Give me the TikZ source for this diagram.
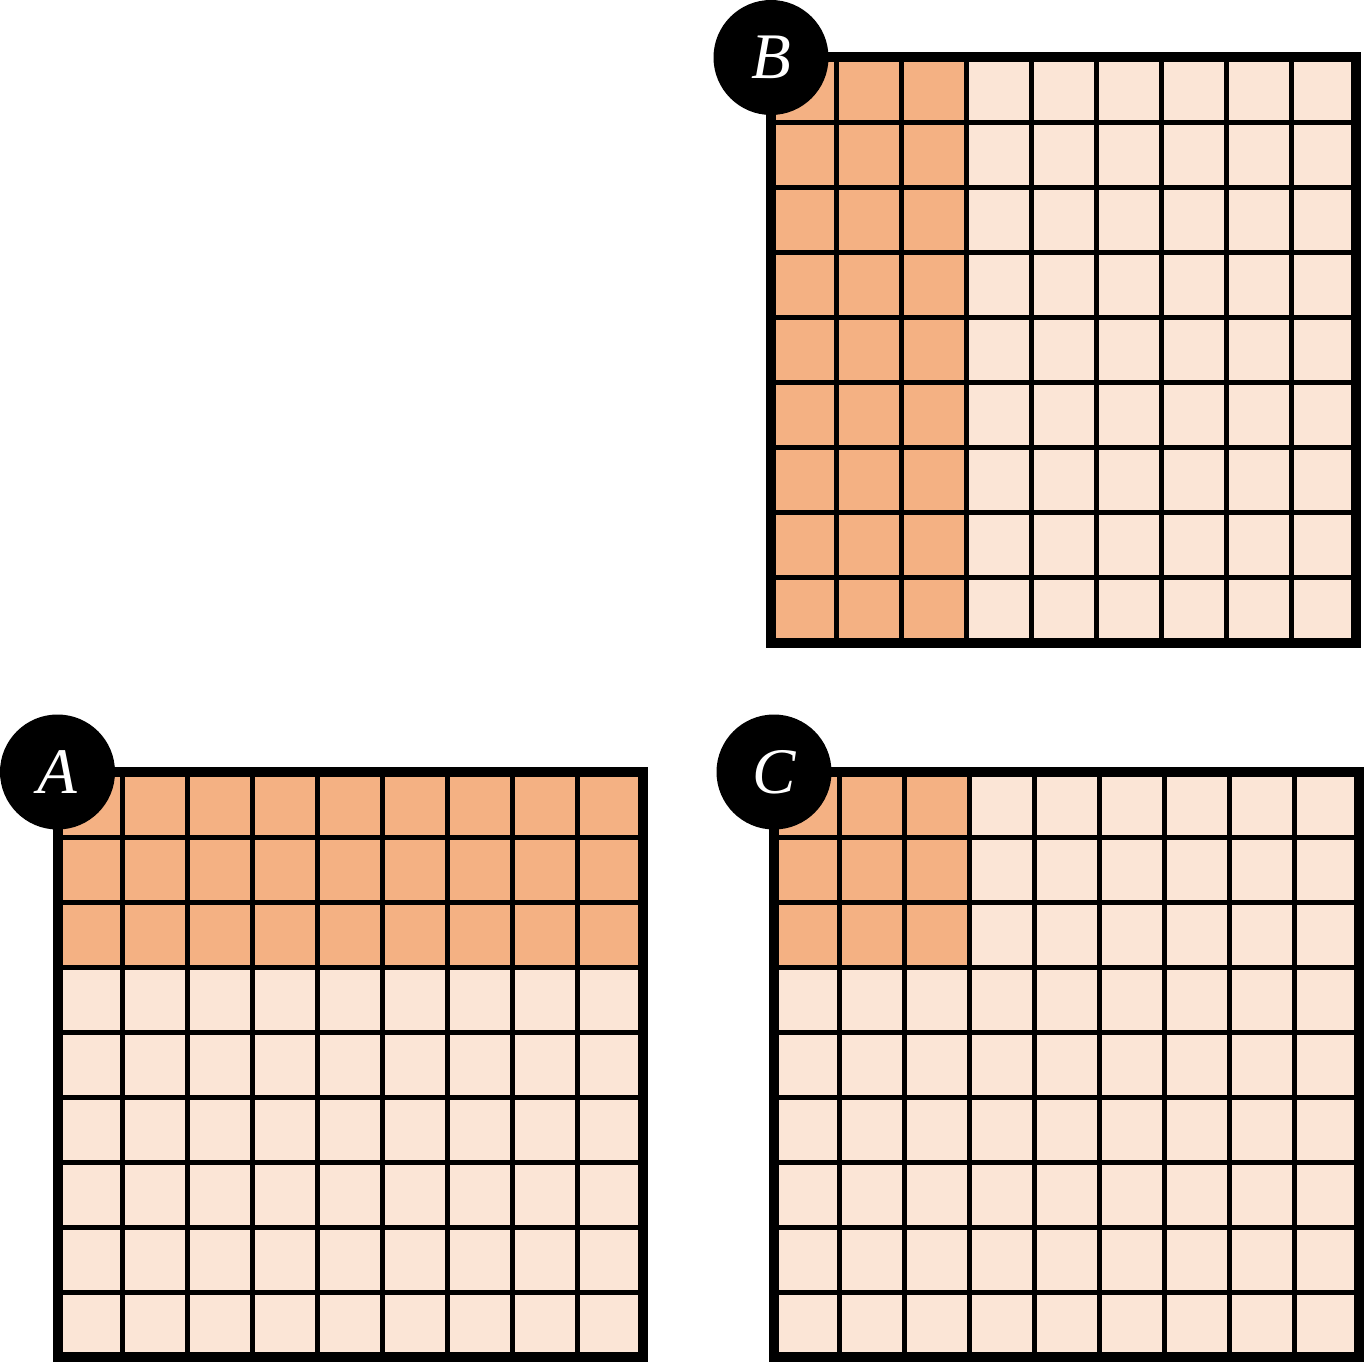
\documentclass[tikz,border=0pt]{standalone}
\usepackage{fontspec}
\newfontfamily\labelfont{Liberation Serif}
\definecolor{darkor}{RGB}{244,177,131}
\definecolor{lightor}{RGB}{251,229,214}
\begin{document}
\begin{tikzpicture}[x=1pt,y=-1pt,
  innerline/.style={line width=5pt, black},
  outerline/.style={line width=10pt, black},
  badge/.style={circle, fill=black, minimum size=115pt, inner sep=0pt, text=white, font=\labelfont\fontsize{65}{65}\selectfont\itshape}]
\useasboundingbox (0,0) rectangle (1364,1362);
% Grid B
\begin{scope}[shift={(771,57.5)}]
  \fill[lightor] (0,0) rectangle (585,585);
  \fill[darkor] (0,0) rectangle (195,585);
  \foreach \i in {1,...,8} {
    \draw[innerline] (\i*65,0) -- (\i*65,585);
    \draw[innerline] (0,\i*65) -- (585,\i*65);
  }
  \draw[outerline] (0,0) rectangle (585,585);
  \node[badge] (labB) at (0,0) {B};
\end{scope}
% Grid A
\begin{scope}[shift={(57.5,772)}]
  \fill[lightor] (0,0) rectangle (585,585);
  \fill[darkor] (0,0) rectangle (585,195);
  \foreach \i in {1,...,8} {
    \draw[innerline] (\i*65,0) -- (\i*65,585);
    \draw[innerline] (0,\i*65) -- (585,\i*65);
  }
  \draw[outerline] (0,0) rectangle (585,585);
  \node[badge] (labA) at (0,0) {A};
\end{scope}
% Grid C
\begin{scope}[shift={(774,772)}]
  \fill[lightor] (0,0) rectangle (585,585);
  \fill[darkor] (0,0) rectangle (195,195);
  \foreach \i in {1,...,8} {
    \draw[innerline] (\i*65,0) -- (\i*65,585);
    \draw[innerline] (0,\i*65) -- (585,\i*65);
  }
  \draw[outerline] (0,0) rectangle (585,585);
  \node[badge] (labC) at (0,0) {C};
\end{scope}
\end{tikzpicture}
\end{document}
